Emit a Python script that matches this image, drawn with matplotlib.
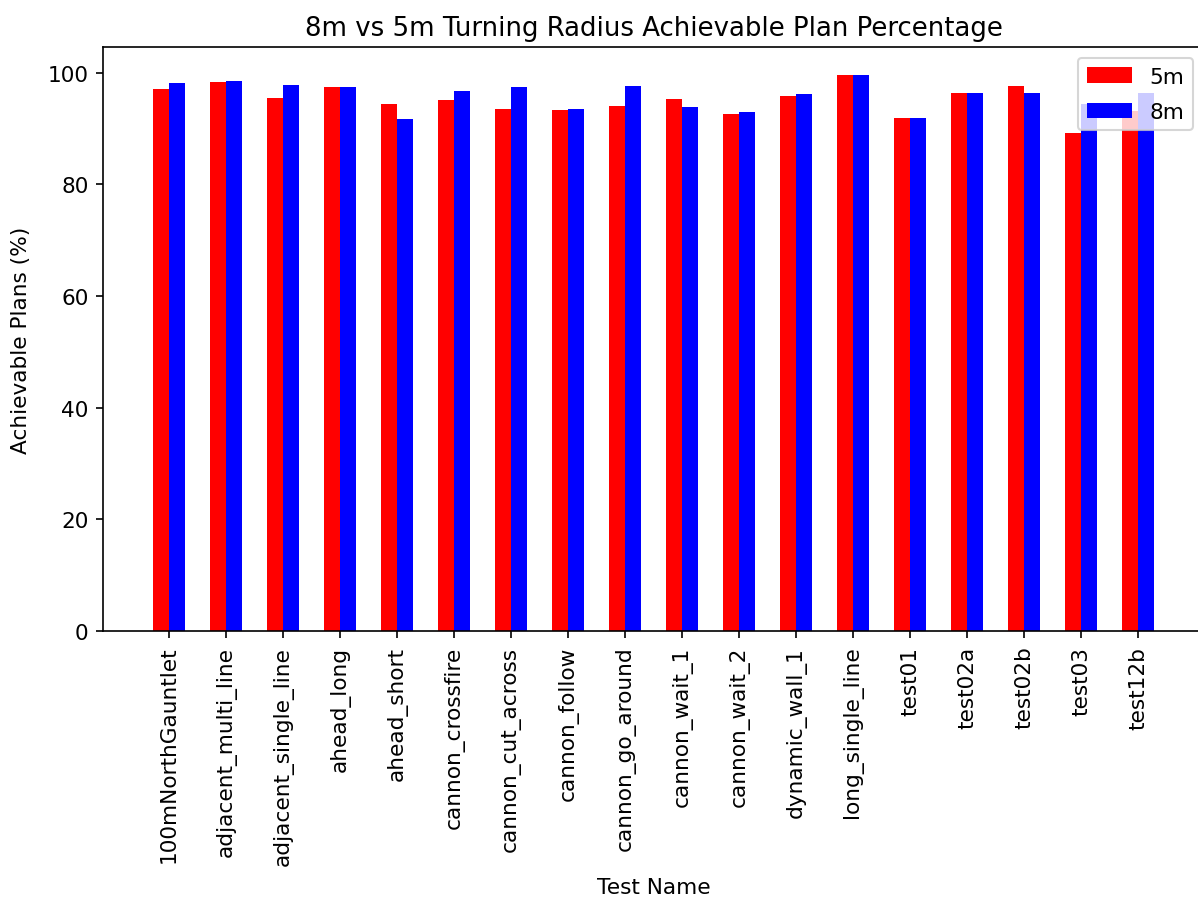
import matplotlib
matplotlib.use("Agg")
import matplotlib.pyplot as plt
import numpy as np

tests = ["100mNorthGauntlet", "adjacent_multi_line", "adjacent_single_line",
         "ahead_long", "ahead_short", "cannon_crossfire", "cannon_cut_across",
         "cannon_follow", "cannon_go_around", "cannon_wait_1", "cannon_wait_2",
         "dynamic_wall_1", "long_single_line", "test01", "test02a", "test02b",
         "test03", "test12b"]
pct_5m = [97.1, 98.4, 95.5, 97.5, 94.4, 95.1, 93.5, 93.4, 94.1, 95.3, 92.6,
          95.9, 99.6, 91.9, 96.4, 97.7, 89.2, 93.2]
pct_8m = [98.2, 98.6, 97.8, 97.5, 91.7, 96.8, 97.5, 93.5, 97.7, 93.9, 93.0,
          96.1, 99.6, 91.9, 96.4, 96.4, 94.4, 96.4]

plt.rcParams["font.size"] = 10.4

width = 0.28
idx = np.arange(len(tests))

fig = plt.figure(figsize=(1198 / 150, 903 / 150), dpi=150)
ax = fig.add_axes([0.086, 0.3, 0.919, 0.6467])
ax.bar(idx - width / 2, pct_5m, width, color="red", label="5m")
ax.bar(idx + width / 2, pct_8m, width, color="blue", label="8m")

ax.set_xticks(idx)
ax.set_xticklabels(tests, rotation=90)
ax.set_xlabel("Test Name", labelpad=6)
ax.set_ylabel("Achievable Plans (%)", labelpad=8)
ax.set_title("8m vs 5m Turning Radius Achievable Plan Percentage")
ax.legend(loc="upper right", labelspacing=0.7, handlelength=2.1)

fig.savefig("out.png", dpi=150)
